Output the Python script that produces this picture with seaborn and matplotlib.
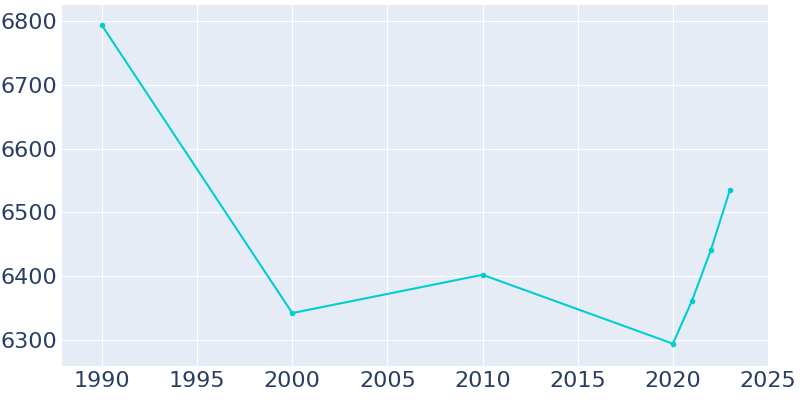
import matplotlib
matplotlib.use("Agg")
import matplotlib.pyplot as plt
import seaborn as sns

years = [1990, 2000, 2010, 2020, 2021, 2022, 2023]
population = [6793, 6342, 6402, 6294, 6361, 6441, 6535]

sns.set_style("darkgrid", {"axes.facecolor": "#E5ECF6", "grid.color": "white"})
plt.rcParams['font.family'] = ['DejaVu Sans']

fig = plt.figure(figsize=(8, 4), dpi=100)
ax = fig.add_axes([0.0775, 0.085, 0.8825, 0.9025])
sns.lineplot(x=years, y=population, ax=ax, color="#00CED1", marker="o",
             markersize=4, markeredgewidth=0, linewidth=1.5)
ax.set_xlim(1987.9, 2025)
ax.set_ylim(6259, 6825)
ax.set_xticks(range(1990, 2026, 5))
ax.set_yticks(range(6300, 6801, 100))
ax.tick_params(labelsize=16, colors="#2a3f5f", length=0)
for s in ax.spines.values():
    s.set_visible(False)
fig.savefig("out.png")
